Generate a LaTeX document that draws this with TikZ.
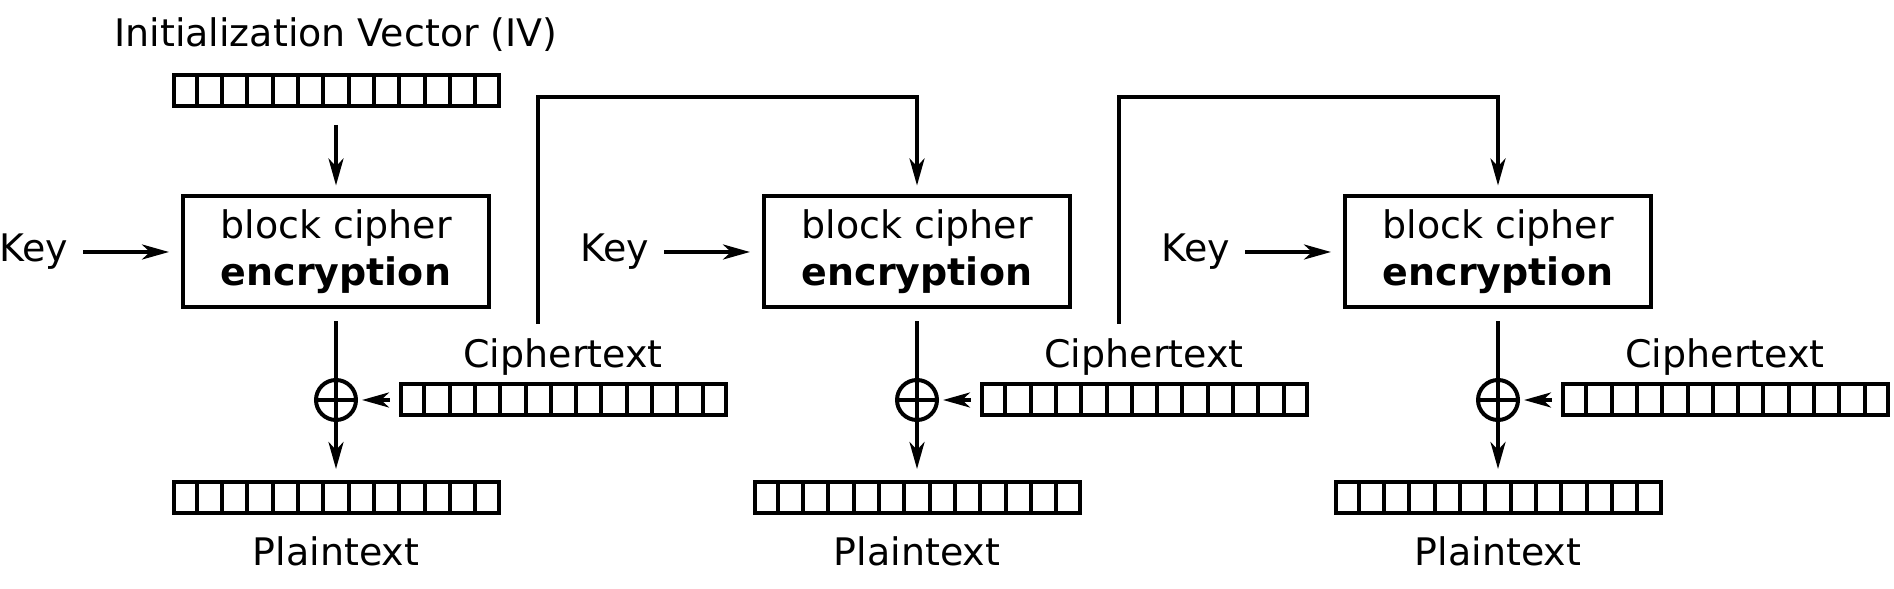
\documentclass[tikz,border=0pt]{standalone}
\usepackage{fontspec}
\setmainfont{DejaVu Sans}
\usetikzlibrary{arrows.meta,positioning,calc}

\begin{document}
\begin{tikzpicture}[>={Stealth[length=0.54cm,width=0.3cm,inset=0.16cm]},
 font=\fontsize{21.6}{26.7}\selectfont, line width=0.08cm,
 cipher/.style={draw,minimum width=6.12cm,minimum height=2.22cm,align=center,inner sep=0},
 bytes/.style={draw,minimum width=6.5cm,minimum height=0.62cm,inner sep=0},
 xor/.style={circle,draw,minimum size=0.8cm,inner sep=0},
 arr/.style={->}]
\useasboundingbox (0,0) rectangle (37.88,11.78);
\node (ivlabel) at (6.72,11.08) {Initialization Vector (IV)};
\node[bytes] (iv) at (6.72,9.96) {};
\foreach \s/\x in {1/0,2/11.62,3/23.24} {
 \node[cipher] (enc\s) at (\x+6.72,6.74) {block cipher\\ \textbf{encryption}};
 \node[inner sep=0] (key\s) at (\x+0.68,6.74) {Key};
 \node[xor] (xor\s) at (\x+6.72,3.78) {};
 \node[bytes] (ct\s) at (\x+11.27,3.78) {};
 \node (ctlabel\s) at (\x+11.26,4.64) {Ciphertext};
 \node[bytes] (pt\s) at (\x+6.72,1.82) {};
 \node (ptlabel\s) at (\x+6.72,0.76) {Plaintext};
 \coordinate (fb\s) at (\x+10.76,5.30);
 \draw[arr,shorten <=0.26cm,shorten >=0.24cm] (key\s) -- (enc\s);
 \draw[shorten <=0.24cm] (enc\s) -- (xor\s.south);
 \draw (xor\s.west) -- (xor\s.east);
 \draw[arr,shorten >=0.23cm] (xor\s.south) -- (pt\s);
 \draw[arr,shorten <=0.19cm,shorten >=0.08cm] (ct\s) -- (xor\s);
}
\draw[arr,shorten <=0.33cm,shorten >=0.18cm] (iv) -- (enc1);
\foreach \s/\t in {1/2,2/3}
 \draw[arr,shorten >=0.18cm] (fb\s) -- ++(0,4.54) -| (enc\t.north);
% byte cells
\foreach \b in {iv,pt1,pt2,pt3,ct1,ct2,ct3}
 \foreach \k in {1,...,12}
  \draw ($(\b.north west)!\k/13!(\b.north east)$) -- ($(\b.south west)!\k/13!(\b.south east)$);
\end{tikzpicture}
\end{document}
